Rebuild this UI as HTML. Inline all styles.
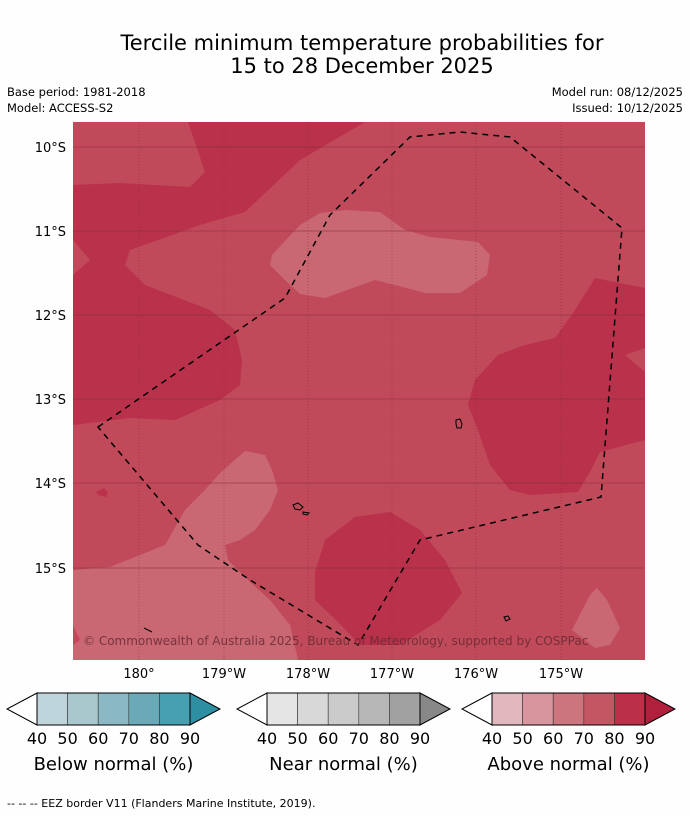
<!DOCTYPE html>
<html><head><meta charset="utf-8"><style>
body{margin:0;background:#fff;width:690px;height:816px;overflow:hidden;font-family:"Liberation Sans","DejaVu Sans",sans-serif}
svg text{font-family:"DejaVu Sans","Liberation Sans",sans-serif}
</style></head><body>
<svg width="690" height="816" viewBox="0 0 690 816">
<rect width="690" height="816" fill="#fefefe"/>
<text x="362" y="50" font-size="21" text-anchor="middle">Tercile minimum temperature probabilities for</text>
<text x="362" y="73" font-size="21" text-anchor="middle">15 to 28 December 2025</text>
<text x="7" y="96" font-size="11.5">Base period: 1981-2018</text>
<text x="7" y="112" font-size="11.5">Model: ACCESS-S2</text>
<text x="683" y="96" font-size="11.5" text-anchor="end">Model run: 08/12/2025</text>
<text x="683" y="112" font-size="11.5" text-anchor="end">Issued: 10/12/2025</text>
<defs><clipPath id="mc"><rect x="73" y="122" width="572" height="538"/></clipPath></defs>
<g clip-path="url(#mc)">
<rect x="73" y="122" width="572" height="538" fill="#c04a59"/>
<polygon fill="#b9314b" points="73,185 120,183 190,187 205,172 188,122 365,122 300,160 245,212 200,225 130,250 125,265 145,285 210,310 235,330 242,360 240,385 220,400 175,420 130,418 73,425 73,275 90,260 73,240"/>
<polygon fill="#b9314b" points="595,278 645,288 645,348 625,355 645,372 645,440 600,452 590,472 578,492 530,495 510,490 490,465 478,430 468,405 475,380 498,355 525,345 555,338 575,310"/>
<polygon fill="#b9314b" points="315,572 325,540 355,517 390,512 420,530 445,560 462,593 440,620 400,645 360,645 338,622 315,600"/>
<polygon fill="#b9314b" points="96,492 104,488 108,492 106,497 98,495"/>
<polygon fill="#c96873" points="272,255 300,225 320,213 345,210 380,212 405,230 430,237 478,242 490,255 487,275 460,293 425,293 395,285 375,280 325,298 300,294 285,280 270,265"/>
<polygon fill="#c96873" points="73,570 110,567 140,555 165,545 185,510 205,490 220,473 245,451 265,455 272,470 278,490 270,510 255,530 240,540 225,545 228,560 248,580 270,600 290,625 298,660 73,660 73,645 80,640 73,625"/>
<polygon fill="#c96873" points="572,630 590,595 597,588 607,600 620,628 610,645 595,648"/>
<g stroke="#8a3040" stroke-width="1" opacity="0.6">
<line x1="73" x2="645" y1="147" y2="147"/><line x1="73" x2="645" y1="231" y2="231"/><line x1="73" x2="645" y1="315" y2="315"/><line x1="73" x2="645" y1="399" y2="399"/><line x1="73" x2="645" y1="483" y2="483"/><line x1="73" x2="645" y1="568" y2="568"/>
<g stroke-dasharray="1,2"><line x1="139" x2="139" y1="122" y2="660"/><line x1="224" x2="224" y1="122" y2="660"/><line x1="308" x2="308" y1="122" y2="660"/><line x1="392" x2="392" y1="122" y2="660"/><line x1="476" x2="476" y1="122" y2="660"/><line x1="561" x2="561" y1="122" y2="660"/></g>
</g>
<polygon fill="none" stroke="#000" stroke-width="1.5" stroke-dasharray="6,5" points="98,427 285,298 330,215 410,137 460,132 510,137 622,228 601,497 420,540 358,645 250,580 198,545"/>
<g fill="none" stroke="#000" stroke-width="1">
<path d="M456,420 l4,-1 l2,5 l-1,4 l-4,0 l-1,-4z"/><path d="M293,505 l5,-2 l5,4 l-3,3 l-5,-1z M303,512 l6,1 l-2,2 l-4,-1z"/><path d="M504,617 l4,-1 l2,3 l-4,2z"/><path d="M144,628 l8,4"/>
</g>
<text x="83" y="645" font-size="12" fill="#6a2a34" opacity="0.85">© Commonwealth of Australia 2025, Bureau of Meteorology, supported by COSPPac</text>
</g>
<g font-size="13" text-anchor="end">
<text x="66" y="152">10°S</text><text x="66" y="236">11°S</text><text x="66" y="320">12°S</text><text x="66" y="404">13°S</text><text x="66" y="488">14°S</text><text x="66" y="573">15°S</text>
</g>
<g font-size="13" text-anchor="middle">
<text x="139" y="678">180°</text><text x="224" y="678">179°W</text><text x="308" y="678">178°W</text><text x="392" y="678">177°W</text><text x="476" y="678">176°W</text><text x="561" y="678">175°W</text>
</g>
<g id="cbs"></g>
<text x="7" y="807" font-size="11">--  --  -- EEZ border V11 (Flanders Marine Institute, 2019).</text>
</svg>
<script>
const ticks=["40","50","60","70","80","90"];
const belowColors=["#bfd5dc","#a8c8cd","#8ab8c4","#6aaab8","#47a0b2","#2e8fa3"];
const nearColors=["#e5e5e5","#d8d8d8","#cbcbcb","#b7b7b7","#a1a1a1","#888888"];
const aboveColors=["#e2b8be","#d9959d","#cd757e","#c45563","#ba3049","#b0203d"];
const titles=["Below normal (%)","Near normal (%)","Above normal (%)"];
const starts=[7,237,462];
const NS="http://www.w3.org/2000/svg";
const g=document.getElementById('cbs');
[belowColors,nearColors,aboveColors].forEach((cols,k)=>{
  const x0=starts[k],r0=x0+30,w=30.6,y0=693,h=32;
  const grp=document.createElementNS(NS,'g');
  
  
  const lt=document.createElementNS(NS,'polygon');
  lt.setAttribute('points',`${r0},${y0} ${x0},${y0+h/2} ${r0},${y0+h}`);
  lt.setAttribute('fill','#fff');lt.setAttribute('stroke','#000');
  
  grp.appendChild(lt);
  for(let i=0;i<5;i++){
    const r=document.createElementNS(NS,'rect');
    r.setAttribute('x',r0+i*w);r.setAttribute('y',y0);r.setAttribute('width',w);r.setAttribute('height',h);
    r.setAttribute('fill',cols[i]);r.setAttribute('stroke','#333');r.setAttribute('stroke-width','0.6');
    
    grp.appendChild(r);
  }
  const re=r0+5*w;
  const rt=document.createElementNS(NS,'polygon');
  rt.setAttribute('points',`${re},${y0} ${re+30},${y0+h/2} ${re},${y0+h}`);
  rt.setAttribute('fill',cols[5]);rt.setAttribute('stroke','#000');
  
  grp.appendChild(rt);
  const ol=document.createElementNS(NS,'rect');
  ol.setAttribute('x',r0);ol.setAttribute('y',y0);ol.setAttribute('width',5*w);ol.setAttribute('height',h);
  ol.setAttribute('fill','none');ol.setAttribute('stroke','#000');
  grp.appendChild(ol);
  ticks.forEach((t,i)=>{
    const tx=document.createElementNS(NS,'text');
    tx.setAttribute('x',r0+i*w);tx.setAttribute('y',744);tx.setAttribute('font-size','16');tx.setAttribute('text-anchor','middle');
    
    tx.textContent=t;grp.appendChild(tx);
  });
  const tt=document.createElementNS(NS,'text');
  tt.setAttribute('x',r0+2.5*w);tt.setAttribute('y',770);tt.setAttribute('font-size','18');tt.setAttribute('text-anchor','middle');
  
  tt.textContent=titles[k];grp.appendChild(tt);
  g.appendChild(grp);
});
</script>
</body></html>
